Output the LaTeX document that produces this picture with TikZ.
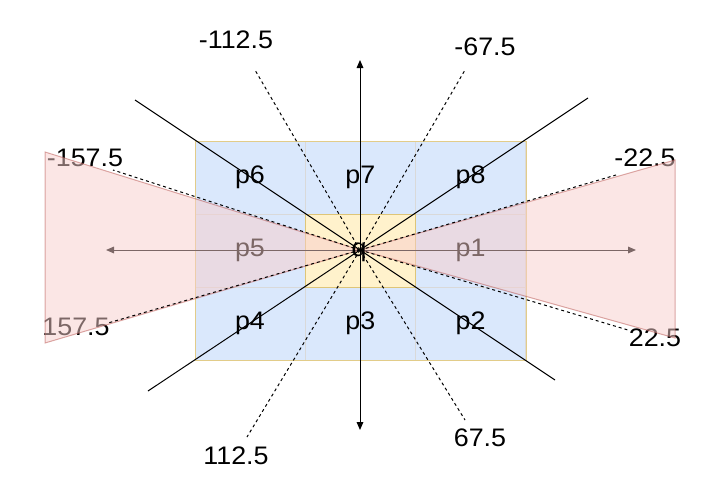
\documentclass[tikz,border=0pt]{standalone}
\usepackage{fontspec}
\setmainfont{Liberation Sans}
\usetikzlibrary{arrows.meta}
\definecolor{cellblue}{HTML}{DAE8FC}
\definecolor{cellyellow}{HTML}{FFF2CC}
\definecolor{celledge}{HTML}{D6B656}
\definecolor{conepink}{HTML}{F8CECC}
\definecolor{coneedge}{HTML}{B85450}
\tikzset{
  cell/.style={fill=cellblue,draw=black!15,line width=0.75pt},
  cone/.style={fill=conepink,draw=coneedge,fill opacity=0.5,draw opacity=0.5,line width=0.75pt},
  ray/.style={line width=0.75pt},
  halfray/.style={line width=0.75pt,dash pattern=on 2.25pt off 2.25pt},
  axis/.style={line width=0.75pt,{Triangle[length=6pt,width=5pt]}-{Triangle[length=6pt,width=5pt]}},
  lbl/.style={font=\fontsize{19}{21}\selectfont,inner sep=0pt,xscale=1.06}
}
\begin{document}
\begin{tikzpicture}[x=0.75pt,y=-0.75pt]
      \useasboundingbox (0,0) rectangle (722,482);
      %%% the 3x3 grid round q
      \foreach \c in {0,1,2}
      \foreach \l in {0,1,2}
      {
        \draw[cell] (195+110.3*\c,141+73*\l) rectangle ++(110.3,73);
      }
      \draw[fill=cellyellow,draw=celledge!80,line width=0.75pt] (305.3,214) rectangle (415.7,287);
      \draw[draw=celledge!70,line width=0.75pt] (195,141) rectangle (526,360);
      %% cell names
      \foreach \c/\l/\t in {0/0/p6,1/0/p7,2/0/p8,0/1/p5,2/1/p1,0/2/p4,1/2/p3,2/2/p2}
      {
        \node[lbl] (\t) at (250+110.3*\c,177.5+73*\l) {\t};
      }
      \coordinate (q) at (360,250);
      %% x axis (under the cones)
      \coordinate (xl) at (106,250);
      \coordinate (xr) at (636,250);
      \draw[axis] (xl) -- (xr);
      %% angle labels
      \node[lbl] (a1) at (236,40) {-112.5};
      \node[lbl] (a2) at (485,47) {-67.5};
      \node[lbl] (a3) at (85,158) {-157.5};
      \node[lbl] (a4) at (645,158) {-22.5};
      \node[lbl] (a5) at (76,327) {157.5};
      \node[lbl] (a6) at (655,338) {22.5};
      \node[lbl] (a7) at (236,456) {112.5};
      \node[lbl] (a8) at (480,438) {67.5};
      %%% the two cones
      \draw[cone] (q) -- (45,152) -- (45,343) -- cycle;
      \draw[cone] (q) -- (675,160) -- (675,338) -- cycle;
      %% dashed rays
      \foreach \n/\p in {d1/{255,70},d2/{465,70},d3/{465,420},d4/{247,437},d5/{113,170},d6/{616,175},d7/{628,330},d8/{108,323}}
      {
        \coordinate (\n) at (\p);
        \draw[halfray] (q) -- (\n);
      }
      %% solid rays
      \foreach \n/\p in {s1/{135,100},s2/{588,98},s3/{555,380},s4/{148,391}}
      {
        \coordinate (\n) at (\p);
        \draw[ray] (q) -- (\n);
      }
      %% y axis
      \coordinate (yt) at (360,60);
      \coordinate (yb) at (360,430);
      \draw[axis] (yt) -- (yb);
      \node[lbl] (qlbl) at (359,252) {q};
    \end{tikzpicture}
\end{document}
